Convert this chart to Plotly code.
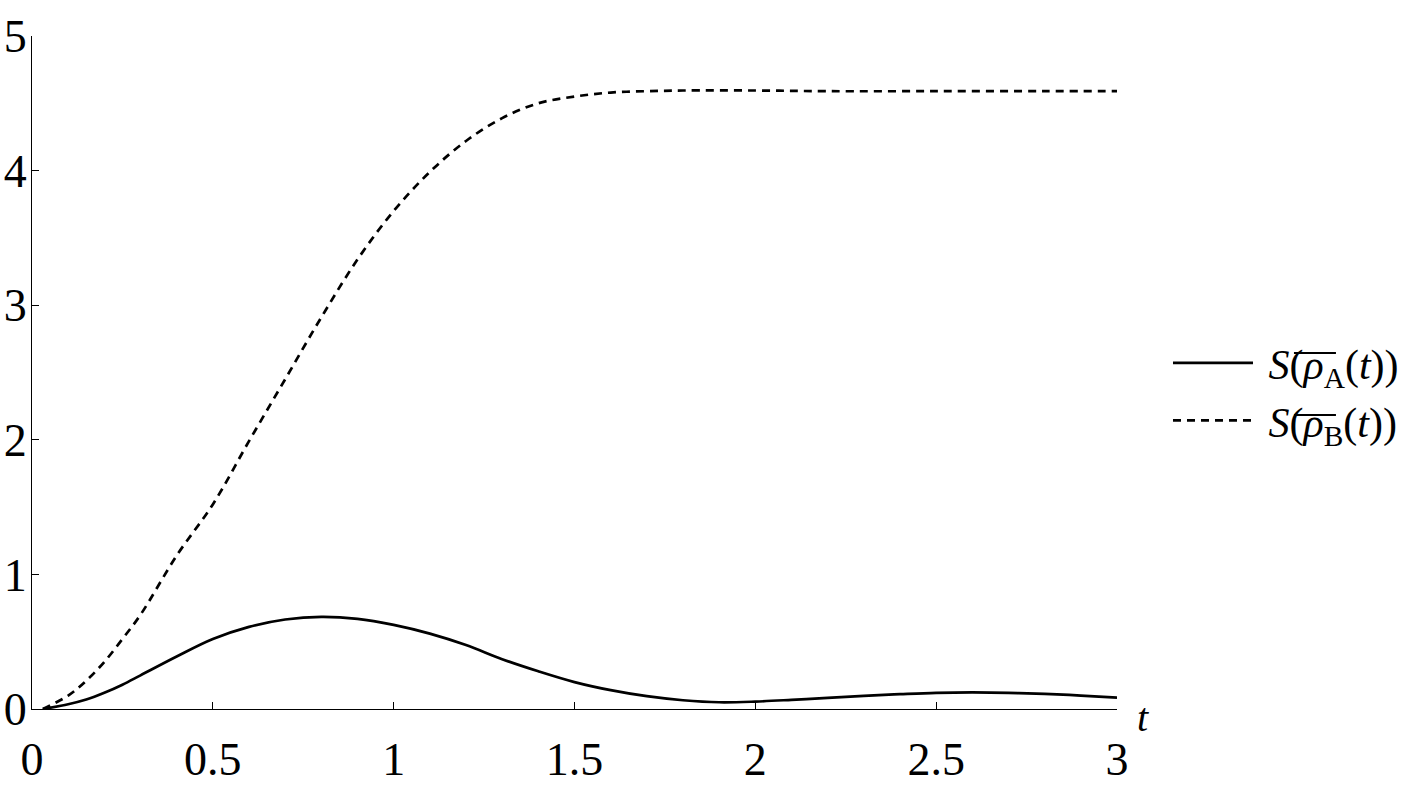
"""
Entropy of the reduced states rho_A and rho_B over time.
"""

import plotly.graph_objects as go

t_a = [0.03, 0.1, 0.15, 0.2, 0.25, 0.3, 0.4, 0.5, 0.6, 0.7, 0.8, 0.9, 1.0,
       1.1, 1.2, 1.3, 1.4, 1.5, 1.6, 1.7, 1.8, 1.9, 2.0, 2.1, 2.2, 2.3, 2.4,
       2.5, 2.6, 2.7, 2.8, 2.9, 3.0]
s_a = [0.0, 0.035, 0.07, 0.12, 0.18, 0.25, 0.39, 0.52, 0.61, 0.665, 0.685,
       0.67, 0.625, 0.56, 0.475, 0.37, 0.28, 0.20, 0.14, 0.095, 0.065, 0.05,
       0.055, 0.068, 0.083, 0.098, 0.11, 0.12, 0.123, 0.12, 0.112, 0.10, 0.085]

t_b = [0.03, 0.1, 0.15, 0.2, 0.25, 0.3, 0.4, 0.5, 0.6, 0.7, 0.8, 0.9, 1.0,
       1.1, 1.2, 1.3, 1.4, 1.5, 1.6, 1.7, 1.8, 2.0, 2.2, 2.5, 2.8, 3.0]
s_b = [0.0, 0.10, 0.21, 0.35, 0.52, 0.70, 1.14, 1.52, 1.99, 2.45, 2.91, 3.34,
       3.70, 3.99, 4.22, 4.39, 4.50, 4.55, 4.58, 4.59, 4.595, 4.595, 4.59,
       4.59, 4.59, 4.59]

x_ticks = [0, 0.5, 1, 1.5, 2, 2.5, 3]
x_tick_text = ["0", "0.5", "1", "1.5", "2", "2.5", "3"]
y_ticks = [0, 1, 2, 3, 4, 5]
y_tick_text = ["0", "1", "2", "3", "4", "5"]

SERIF = "Liberation Serif, Tinos, Times New Roman, DejaVu Serif, serif"


def legend_label(sub):
    return f" <i>S</i>(<i>ρ</i><sub>{sub}</sub>(<i>t</i>))"


fig = go.Figure()
fig.add_trace(go.Scatter(
    x=t_a, y=s_a, mode="lines", line_shape="spline",
    line=dict(color="black", width=2.7),
    name=legend_label("A"),
))
fig.add_trace(go.Scatter(
    x=t_b, y=s_b, mode="lines", line_shape="spline",
    line=dict(color="black", width=2.7, dash="8px,6px"),
    name=legend_label("B"),
))

# overbars above rho_A / rho_B in the legend labels
for y_bar in (0.529, 0.4368):
    fig.add_shape(type="line", xref="paper", yref="paper",
                  x0=1.1631, x1=1.2018, y0=y_bar, y1=y_bar,
                  line=dict(color="black", width=2))

axis_common = dict(
    showline=True, linecolor="black", linewidth=1.3,
    showgrid=False, zeroline=False,
    ticks="inside", ticklen=7, tickcolor="black", tickwidth=1.3,
    tickfont=dict(family=SERIF, size=46, color="black"),
    automargin=False,
)

fig.update_layout(
    width=1410, height=790,
    font=dict(family=SERIF, color="black"),
    paper_bgcolor="white", plot_bgcolor="white",
    margin=dict(l=32, r=293, t=36, b=81, autoexpand=False),
    xaxis=dict(range=[0, 3], tickvals=x_ticks, ticktext=x_tick_text,
               ticklabelstandoff=10, **axis_common),
    yaxis=dict(range=[0, 5], tickvals=y_ticks, ticktext=y_tick_text,
               ticklabelstandoff=-5, **axis_common),
    legend=dict(x=1.047, y=0.471, xanchor="left", yanchor="middle",
                font=dict(family=SERIF, size=42, color="black"),
                itemwidth=80, tracegroupgap=10, bgcolor="rgba(0,0,0,0)"),
    annotations=[dict(
        text="<i>t</i>", x=1.024, xref="paper", y=0, yref="y",
        xanchor="center", yanchor="middle", yshift=-8, showarrow=False,
        font=dict(family=SERIF, size=40, color="black"),
    )],
)

# drop the browser's default 8px body margin so the figure sits at 0,0
fig.write_html("out.html", config={"displayModeBar": False},
               post_script="document.body.style.margin='0';")
